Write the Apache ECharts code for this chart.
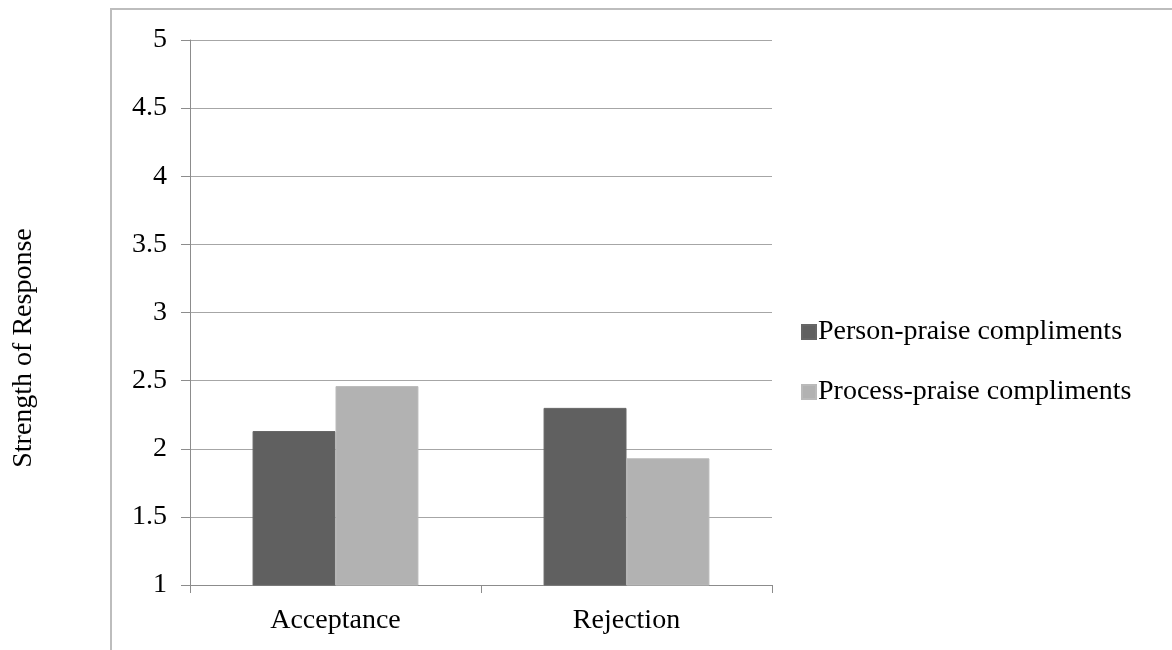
<!DOCTYPE html>
<html>
<head>
<meta charset="utf-8">
<script src="https://cdn.jsdelivr.net/npm/echarts@6/dist/echarts.min.js"></script>
<style>
  html, body { margin: 0; padding: 0; background: #ffffff; }
  #chart { width: 1172px; height: 650px; }
</style>
</head>
<body>
<div id="chart"></div>
<script>
// Response types on the x axis
const categories = ['Acceptance', 'Rejection'];
// Mean strength of response per compliment type
const personPraise = [2.13, 2.30];
const processPraise = [2.46, 1.93];
const seriesNames = ['Person-praise compliments', 'Process-praise compliments'];
const yTicks = { min: 1, max: 5, step: 0.5 };
const yTitle = 'Strength of Response';

const FONT = '"Liberation Serif", "Times New Roman", serif';
const chart = echarts.init(document.getElementById('chart'));

chart.setOption({
  backgroundColor: '#ffffff',
  animation: false,
  textStyle: { fontFamily: FONT, color: '#000000' },
  grid: { left: 190, right: 400, top: 40, bottom: 65, containLabel: false },
  graphic: [
    {
      type: 'rect',
      shape: { x: 111, y: 9, width: 1200, height: 800 },
      style: { fill: 'none', stroke: '#bdbdbd', lineWidth: 2 },
      silent: true,
      z: -1
    },
    {
      type: 'text',
      x: 24,
      y: 348,
      rotation: Math.PI / 2,
      style: {
        text: yTitle,
        font: '28px ' + FONT,
        fill: '#000000',
        align: 'center',
        verticalAlign: 'middle'
      }
    }
  ],
  legend: {
    orient: 'vertical',
    left: 796,
    top: 313,
    itemWidth: 14,
    itemHeight: 14,
    itemGap: 32,
    icon: 'rect',
    data: seriesNames,
    textStyle: { fontFamily: FONT, fontSize: 28, color: '#000000', padding: [0, 0, 0, -3] }
  },
  xAxis: {
    type: 'category',
    data: categories,
    axisLine: { show: true, lineStyle: { color: '#8c8c8c', width: 1 } },
    axisTick: { show: true, length: 8, lineStyle: { color: '#8c8c8c' } },
    axisLabel: { fontFamily: FONT, fontSize: 28, color: '#000000', margin: 22 },
    splitLine: { show: false }
  },
  yAxis: {
    type: 'value',
    min: yTicks.min,
    max: yTicks.max,
    interval: yTicks.step,
    axisLine: { show: true, lineStyle: { color: '#8c8c8c', width: 1 } },
    axisTick: { show: true, length: 9, lineStyle: { color: '#8c8c8c' } },
    axisLabel: { fontFamily: FONT, fontSize: 28, color: '#000000', margin: 23 },
    splitLine: { show: true, lineStyle: { color: '#a6a6a6', width: 1 } }
  },
  series: [
    {
      name: seriesNames[0],
      type: 'bar',
      data: personPraise,
      barGap: '0%',
      barCategoryGap: '43%',
      itemStyle: { color: '#606060', borderColor: '#666666', borderWidth: 1 }
    },
    {
      name: seriesNames[1],
      type: 'bar',
      data: processPraise,
      barGap: '0%',
      barCategoryGap: '43%',
      itemStyle: { color: '#b2b2b2', borderColor: '#bababa', borderWidth: 1 }
    }
  ]
});
</script>
</body>
</html>
